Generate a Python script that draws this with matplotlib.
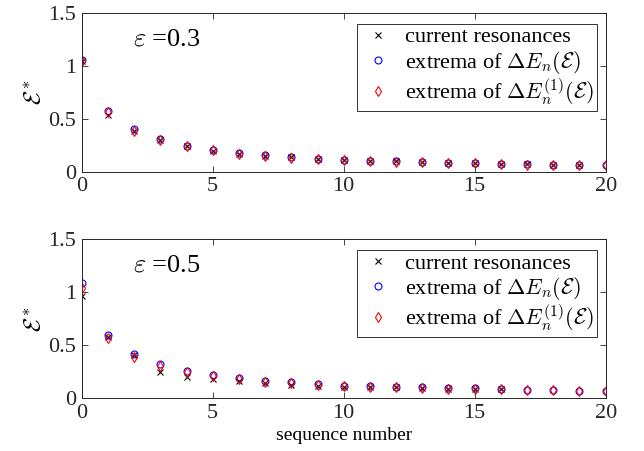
import matplotlib.pyplot as plt
import numpy as np

plt.rcParams['font.family'] = ['Liberation Serif', 'DejaVu Serif']
plt.rcParams['mathtext.fontset'] = 'cm'

# sequence numbers
n = np.arange(21)

# epsilon = 0.3
res_03 = [1.05, 0.54, 0.39, 0.30, 0.24, 0.20, 0.17, 0.15, 0.135, 0.12, 0.11,
          0.104, 0.098, 0.092, 0.085, 0.08, 0.073, 0.07, 0.066, 0.063]
ext_03 = [1.058, 0.575, 0.40, 0.306, 0.246, 0.208, 0.174, 0.155, 0.136, 0.123, 0.111,
          0.104, 0.098, 0.092, 0.085, 0.08, 0.073, 0.07, 0.066, 0.063, 0.06]
ext1_03 = [1.05, 0.57, 0.39, 0.30, 0.24, 0.205, 0.17, 0.152, 0.133, 0.12, 0.108,
           0.102, 0.096, 0.09, 0.083, 0.078, 0.072, 0.068, 0.065, 0.062, 0.059]

# epsilon = 0.5
res_05 = [0.965, 0.58, 0.41, 0.25, 0.204, 0.185, 0.165, 0.145, 0.125, 0.115, 0.105,
          0.11, 0.105, 0.1, 0.09, 0.088, 0.083]
ext_05 = [1.09, 0.60, 0.418, 0.324, 0.26, 0.223, 0.19, 0.165, 0.15, 0.135, 0.12,
          0.116, 0.11, 0.104, 0.095, 0.093, 0.088, 0.08, 0.075, 0.072, 0.07]
ext1_05 = [1.04, 0.566, 0.387, 0.30, 0.245, 0.21, 0.18, 0.158, 0.14, 0.128, 0.113,
           0.11, 0.105, 0.1, 0.092, 0.09, 0.085, 0.08, 0.075, 0.072, 0.068]

panels = [(r'$\varepsilon$ =0.3', res_03, ext_03, ext1_03),
          (r'$\varepsilon$ =0.5', res_05, ext_05, ext1_05)]

fig = plt.figure(figsize=(6.44, 4.51), dpi=100)
rects = [[0.1269, 0.6193, 0.8136, 0.3512], [0.1269, 0.1169, 0.8136, 0.3525]]
axc = '#262626'

for rect, (title, res, ext, ext1) in zip(rects, panels):
    ax = fig.add_axes(rect)
    ax.plot(n[:len(res)], res, 'x', color='black', ms=5, mew=0.8, label='current resonances')
    ax.plot(n[:len(ext)], ext, 'o', color='blue', mfc='none', ms=5, mew=0.8,
            label=r'extrema of $\Delta E_n(\mathcal{E})$')
    ax.plot(n[:len(ext1)], ext1, 'd', color='red', mfc='none', ms=5, mew=0.8,
            label=r'extrema of $\Delta E_n^{(1)}(\mathcal{E})$')
    ax.set_xlim(0, 20)
    ax.set_ylim(0, 1.5)
    ax.set_xticks([0, 5, 10, 15, 20])
    ax.set_yticks([0, 0.5, 1, 1.5])
    ax.set_yticklabels(['0', '0.5', '1', '1.5'])
    ax.tick_params(direction='in', top=True, right=True, labelsize=16, colors=axc,
                   length=4, width=0.6, pad=4)
    for s in ax.spines.values():
        s.set_color(axc)
        s.set_linewidth(0.7)
    ax.set_ylabel(r'$\mathcal{E}^*$', fontsize=17, labelpad=2)
    ax.text(0.098, 0.835, title, transform=ax.transAxes, fontsize=19, va='center')
    leg = ax.legend(loc='upper right', bbox_to_anchor=(0.984, 0.935), fontsize=16,
                    frameon=True, fancybox=False, edgecolor='black', handlelength=1.6,
                    handletextpad=0.4, borderpad=0.15, labelspacing=0.05,
                    borderaxespad=0)
    leg.get_frame().set_linewidth(0.7)
    if title.endswith('0.5'):
        ax.set_xlabel('sequence number', fontsize=14, labelpad=3)

plt.savefig('out.png', dpi=100)
